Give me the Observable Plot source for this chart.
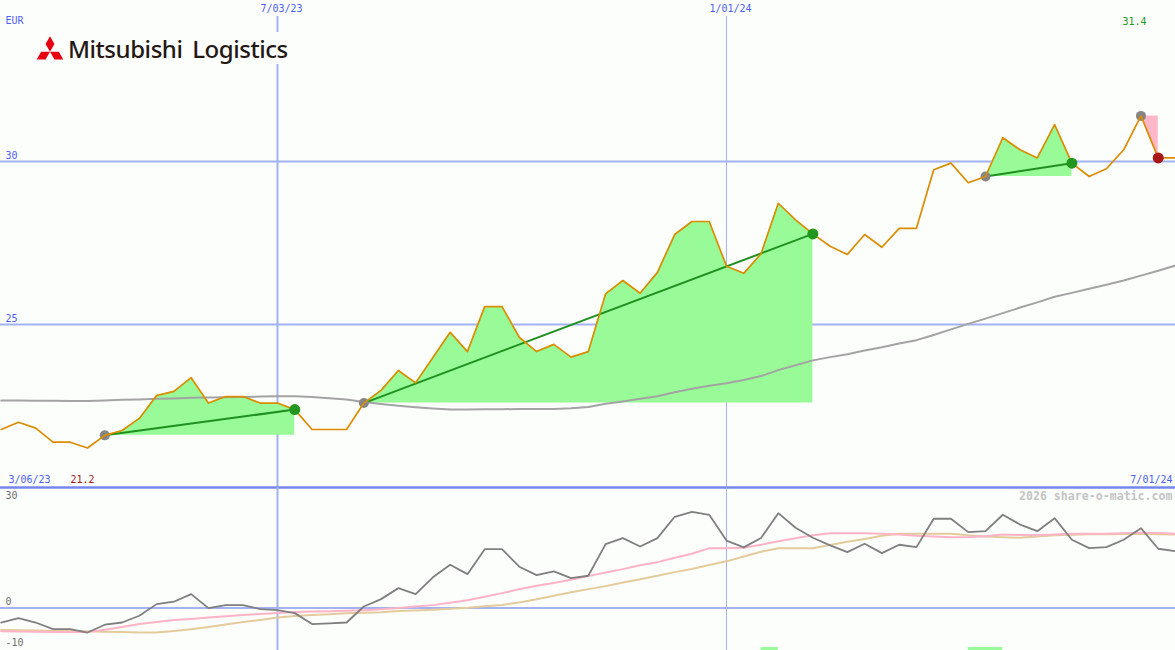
<!DOCTYPE html>
<html>
<head>
<meta charset="utf-8">
<script src="https://cdn.jsdelivr.net/npm/d3@7"></script>
<script src="https://cdn.jsdelivr.net/npm/@observablehq/plot@0.6"></script>
<style>
  html, body { margin: 0; padding: 0; background: #fcfefc; }
  #wrap { position: relative; width: 1175px; height: 650px; overflow: hidden; background: #fcfefc; }
  #topPanel { position: absolute; left: 0; top: 0; }
  #bottomPanel { position: absolute; left: 0; top: 487px; }
  #logo { position: absolute; left: 33px; top: 32px; height: 32px; padding: 0 4px 0 2px; background: #fcfefc; display: flex; align-items: center; }
  #logo span { font-family: "Noto Sans", sans-serif; font-size: 24px; font-weight: 500; color: #231815; margin-left: 3px; word-spacing: 4px; letter-spacing: -0.45px; }
  svg { overflow: visible; }
</style>
</head>
<body>
<div id="wrap">
  <div id="topPanel"></div>
  <div id="bottomPanel"></div>
  <div id="logo">
    <svg width="30" height="24" viewBox="1.5 0 25 20.3"><g fill="#e60012">
      <polygon points="14,0.3 17.75,6.8 14,13.3 10.25,6.8"/>
      <polygon points="14,13.3 10.25,19.8 2.74,19.8 6.5,13.3"/>
      <polygon points="14,13.3 21.5,13.3 25.26,19.8 17.75,19.8"/>
    </g></svg>
    <span>Mitsubishi Logistics</span>
  </div>
</div>
<script>
// ---- data (weekly, first point 13 Mar 2023) ----
const firstWeek = "2023-03-13";
const price = [21.78, 22.0, 21.82, 21.39, 21.39, 21.21, 21.6, 21.75, 22.12, 22.82, 22.95, 23.37, 22.59, 22.79, 22.79, 22.59,
  22.59, 22.39, 21.78, 21.78, 21.78, 22.59, 22.98, 23.59, 23.21, 23.99, 24.76, 24.17, 25.55, 25.55, 24.61, 24.17, 24.39, 24.0, 24.17,
  25.94, 26.35, 25.96, 26.6, 27.76, 28.16, 28.16, 26.79, 26.57, 27.17, 28.72, 28.21, 27.78, 27.4, 27.15, 27.76, 27.37, 27.95, 27.95,
  29.75, 29.95, 29.35, 29.54, 30.73, 30.36, 30.11, 31.13, 29.95, 29.54, 29.78, 30.36, 31.4, 30.11, 30.11];
const priceAvg = [22.67, 22.67, 22.66, 22.66, 22.65, 22.65, 22.67, 22.69, 22.70, 22.72, 22.73, 22.75, 22.76, 22.77, 22.78, 22.79,
  22.8, 22.8, 22.78, 22.74, 22.7, 22.62, 22.56, 22.51, 22.46, 22.42, 22.39, 22.39, 22.4, 22.4, 22.41, 22.41, 22.41, 22.43, 22.47,
  22.57, 22.64, 22.72, 22.8, 22.92, 23.03, 23.12, 23.2, 23.3, 23.42, 23.6, 23.75, 23.9, 24.0, 24.09, 24.2, 24.3, 24.42, 24.52,
  24.68, 24.85, 25.02, 25.18, 25.35, 25.52, 25.68, 25.85, 25.97, 26.1, 26.22, 26.35, 26.5, 26.65, 26.81];
const oscillator = [-3.6, -2.5, -3.6, -5.25, -5.25, -6.1, -4.15, -3.6, -1.9, 1.0, 1.6, 3.5, 0, 0.75, 0.75, -0.25,
  -0.5, -1.25, -4.0, -3.8, -3.6, 0.4, 2.25, 5.0, 3.5, 7.7, 10.85, 8.5, 14.75, 14.75, 10.35, 8.25, 9.2, 7.5, 8.1,
  16, 17.5, 15.4, 17.5, 22.85, 24.1, 23.35, 16.9, 15.2, 17.55, 23.75, 20.1, 17.6, 15.7, 14, 16.1, 13.75, 15.85, 15.25,
  22.35, 22.35, 19, 19.25, 23.35, 20.9, 19.25, 22.5, 17.1, 15, 15.25, 17.1, 20, 14.85, 14.25];
const oscFast = [-5.8, -5.85, -5.9, -5.95, -6.0, -6.0, -5.4, -4.7, -3.95, -3.45, -3.0, -2.7, -2.35, -2.05, -1.75, -1.45,
  -1.2, -0.95, -0.85, -0.77, -0.65, -0.55, -0.3, 0.05, 0.4, 0.75, 1.35, 1.95, 2.85, 3.75, 4.7, 5.6, 6.3, 7.1, 8.0,
  8.9, 9.75, 10.7, 11.5, 12.6, 13.6, 15.0, 15.0, 15.1, 15.85, 16.7, 17.5, 18.2, 18.75, 18.75, 18.7, 18.6, 18.4, 18.1,
  17.9, 17.7, 17.8, 18.0, 18.4, 18.3, 18.2, 18.4, 18.6, 18.6, 18.6, 18.7, 18.85, 18.8, 18.6];
const oscSlow = [-5.5, -5.55, -5.6, -5.7, -5.75, -5.8, -5.9, -6.0, -6.1, -6.1, -5.7, -5.3, -4.7, -4.1, -3.5, -2.95,
  -2.35, -2.0, -1.75, -1.55, -1.3, -1.15, -1.05, -0.75, -0.6, -0.4, -0.15, 0.1, 0.45, 0.8, 1.4, 2.2, 3.1, 3.95, 4.75,
  5.5, 6.4, 7.2, 8.1, 9.0, 9.8, 10.8, 11.7, 12.9, 14.1, 15.0, 15.0, 15.0, 15.8, 16.6, 17.3, 18.1, 18.6, 18.6,
  18.6, 18.6, 18.2, 17.9, 17.75, 17.6, 17.9, 18.2, 18.35, 18.45, 18.5, 18.55, 18.6, 18.5, 18.4];
const signals = [
  {start: "2023-04-24", end: "2023-07-10", dir: "up"},
  {start: "2023-08-07", end: "2024-02-05", dir: "up"},
  {start: "2024-04-15", end: "2024-05-20", dir: "up"},
  {start: "2024-06-17", end: "2024-06-24", dir: "down"}
];
const markerBars = [
  {start: "2024-01-15", end: "2024-01-22"},
  {start: "2024-04-08", end: "2024-04-22"}
];
const dateLines = [{date: "2023-07-03", label: "7/03/23", w: 2}, {date: "2024-01-01", label: "1/01/24", w: 1}];
const priceTicks = [30, 25];
const oscTicks = [{v: 30, label: "30", dy: 8}, {v: 0, label: "0", dy: -6}, {v: -10, label: "-10", dy: -5}];
const firstLabel = "3/06/23", lastLabel = "7/01/24", currency = "EUR";
const minLabel = "21.2", maxLabel = "31.4";
const credit = "2026 share-o-matic.com";

// ---- build ----
const parse = d3.utcParse("%Y-%m-%d");
const t0 = parse(firstWeek);
const rows = price.map((p, i) => ({
  date: d3.utcDay.offset(t0, 7 * i), price: p, avg: priceAvg[i],
  osc: oscillator[i], fast: oscFast[i], slow: oscSlow[i]
}));
const byTime = new Map(rows.map(r => [+r.date, r]));
const sig = signals.map((s, i) => {
  const a = byTime.get(+parse(s.start)), b = byTime.get(+parse(s.end));
  return {id: i, dir: s.dir, x1: a.date, y1: a.price, x2: b.date, y2: b.price};
});
const fillRows = sig.flatMap(s => rows.filter(r => r.date >= s.x1 && r.date <= s.x2)
  .map(r => ({id: s.id, dir: s.dir, date: r.date, price: r.price, base: s.y1})));
const vlines = dateLines.map(d => ({...d, date: parse(d.date)}));

const xDomain = [new Date(Date.UTC(2023, 2, 12, 17, 20)), parse("2024-07-01")];
const mono = "DejaVu Sans Mono, monospace";
const grid = "#a4b2f2", blue = "#4d5ff0";

const topChart = Plot.plot({
  width: 1175, height: 487, margin: 0,
  style: {background: "none", overflow: "visible"},
  x: {type: "utc", domain: xDomain, axis: null},
  y: {domain: [20, 34.94], axis: null},
  marks: [
    Plot.ruleY(priceTicks, {stroke: grid, strokeWidth: 2}),
    Plot.ruleX(vlines, {x: "date", y1: 34.45, y2: 20, stroke: grid, strokeWidth: "w"}),
    Plot.areaY(fillRows.filter(d => d.dir === "up"), {x: "date", y1: "base", y2: "price", z: "id", fill: "#98fb98"}),
    Plot.areaY(fillRows.filter(d => d.dir === "down"), {x: "date", y1: "base", y2: "price", z: "id", fill: "#ffb6c8"}),
    Plot.line(rows, {x: "date", y: "avg", stroke: "#a3a3a3", strokeWidth: 2}),
    Plot.link(sig.filter(s => s.dir === "up"), {x1: "x1", y1: "y1", x2: "x2", y2: "y2", stroke: "#1f901f", strokeWidth: 2}),
    Plot.dot(sig, {x: "x1", y: "y1", r: 5, fill: "#858585"}),
    Plot.line(rows, {x: "date", y: "price", stroke: "#dc8c00", strokeWidth: 1.7}),
    Plot.dot(sig, {x: "x2", y: "y2", r: 5.5, fill: s => s.dir === "up" ? "#22961f" : "#a81818"}),
    Plot.text([currency], {frameAnchor: "top-left", dx: 5, dy: 20, lineAnchor: "middle", textAnchor: "start", fill: blue, fontSize: 10, fontFamily: mono}),
    Plot.text(vlines, {x: "date", text: "label", frameAnchor: "top", lineAnchor: "middle", dy: 8, dx: 4, fill: blue, fontSize: 10, fontFamily: mono}),
    Plot.text(priceTicks, {y: d => d, text: d => String(d), frameAnchor: "left", textAnchor: "start", lineAnchor: "middle", dx: 5, dy: -6, fill: blue, fontSize: 10, fontFamily: mono}),
    Plot.text([firstLabel], {frameAnchor: "bottom-left", textAnchor: "start", lineAnchor: "middle", dx: 8, dy: -8, fill: blue, fontSize: 10, fontFamily: mono}),
    Plot.text([minLabel], {frameAnchor: "bottom-left", textAnchor: "start", lineAnchor: "middle", dx: 70, dy: -8, fill: "#a01818", fontSize: 10, fontFamily: mono}),
    Plot.text([lastLabel], {frameAnchor: "bottom-right", textAnchor: "end", lineAnchor: "middle", dx: -3, dy: -8, fill: blue, fontSize: 10, fontFamily: mono}),
    Plot.text([maxLabel], {frameAnchor: "top-right", textAnchor: "end", lineAnchor: "middle", dx: -29, dy: 21, fill: "#1c9a1c", fontSize: 10, fontFamily: mono}),
    Plot.ruleY([20], {stroke: "#7586ee", strokeWidth: 2.5})
  ]
});
document.getElementById("topPanel").append(topChart);

const bottomChart = Plot.plot({
  width: 1175, height: 163, margin: 0,
  style: {background: "none", overflow: "visible"},
  x: {type: "utc", domain: xDomain, axis: null},
  y: {domain: [-10.6, 30.17], axis: null},
  marks: [
    Plot.ruleY([0], {stroke: grid, strokeWidth: 2}),
    Plot.ruleX(vlines, {x: "date", stroke: grid, strokeWidth: "w"}),
    Plot.rectY(markerBars, {x1: d => parse(d.start), x2: d => parse(d.end), y1: -10.6, y2: -9.85, fill: "#98fb98"}),
    Plot.line(rows, {x: "date", y: "slow", stroke: "#e3cb9c", strokeWidth: 2}),
    Plot.line(rows, {x: "date", y: "fast", stroke: "#ffb3c6", strokeWidth: 2}),
    Plot.line(rows, {x: "date", y: "osc", stroke: "#7f7f7f", strokeWidth: 1.8}),
    ...oscTicks.map(t => Plot.text([t], {y: "v", text: "label", frameAnchor: "left", textAnchor: "start", lineAnchor: "middle", dx: 5,
      dy: t.dy, fill: "#6e6e6e", fontSize: 10, fontFamily: mono})),
    Plot.text([credit], {frameAnchor: "top-right", textAnchor: "end", lineAnchor: "middle", dx: -3, dy: 9, fill: "#c4c4c4", fontSize: 11.6, fontWeight: "bold", fontFamily: mono})
  ]
});
document.getElementById("bottomPanel").append(bottomChart);
</script>
</body>
</html>
